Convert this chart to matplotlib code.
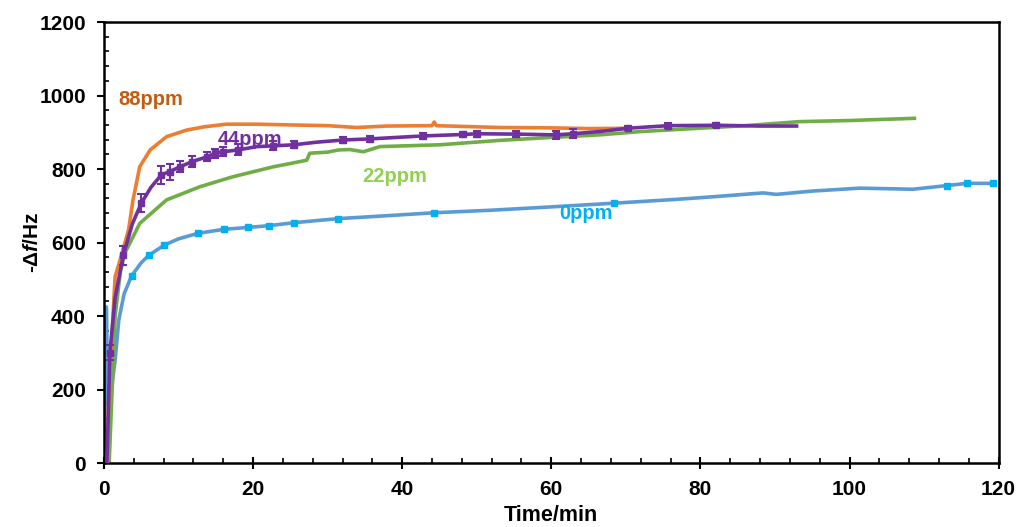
import numpy as np
import matplotlib
matplotlib.use("Agg")
import matplotlib.pyplot as plt

plt.rcParams['font.family'] = ['Liberation Sans', 'DejaVu Sans']
plt.rcParams['font.weight'] = 'bold'
plt.rcParams['mathtext.fontset'] = 'custom'
plt.rcParams['mathtext.rm'] = 'Liberation Sans:bold'
plt.rcParams['mathtext.it'] = 'Liberation Sans:italic:bold'

# 0ppm
t0 = [0, 0.3, 0.35, 0.5, 1.0, 1.5, 2.0, 2.7, 3.7, 5.0, 6.0, 8.1, 10.0, 12.6, 16.1, 19.3,
      22.2, 25.5, 31.4, 38, 44.3, 52, 60, 68.4, 77.2, 82, 88.4, 90.2, 95, 101.4, 108.5,
      113.1, 115.7, 119.5]
f0 = [0, 425, 420, 160, 200, 280, 390, 460, 509, 545, 565, 593, 610, 625, 636, 641,
      646, 654, 665, 673, 681, 688, 697, 707, 718, 725, 735, 731, 740, 748, 745,
      755, 761, 761]
t0_mk = [3.7, 6.0, 8.1, 12.6, 16.1, 19.3, 22.2, 25.5, 31.4, 44.3, 68.4, 113.1, 115.7, 119.2]
f0_mk = [509, 565, 593, 625, 636, 641, 646, 654, 665, 681, 707, 755, 761, 761]

# 22ppm
t22 = [0.7, 1.5, 2.2, 2.8, 4.8, 8.4, 12.9, 17.3, 20.9, 22.7, 25, 27.2, 27.6, 30, 31.5, 33.0,
       34.8, 37.0, 45.1, 53.1, 60, 66.5, 72, 79.9, 86, 93.3, 100, 108.7]
f22 = [0, 400, 520, 571, 652, 716, 752, 779, 797, 806, 815, 824, 843, 846, 852, 853,
       847, 861, 866, 878, 886, 893, 902, 911, 918, 929, 932, 938]

# 88ppm
t88 = [0.5, 0.6, 0.8, 1.5, 2.1, 3.3, 3.9, 4.8, 6.2, 8.4, 11.1, 13.5, 16.4, 20.5, 25, 30,
       33.9, 38, 44.0, 44.3, 44.6, 53.1, 60, 65, 70.1]
f88 = [0, 150, 250, 507, 548, 634, 716, 806, 852, 888, 906, 915, 922, 922, 920, 918,
       913, 917, 918, 928, 918, 913, 912, 910, 911]

# 44ppm
t44 = [0.4, 0.8, 1.5, 2.6, 3.8, 5.0, 6.3, 7.7, 8.8, 10.2, 11.8, 13.8, 14.9, 16.0, 18.0,
       20.5, 22.7, 25.5, 28.5, 32.1, 35.7, 42.8, 48.2, 50.0, 55.3, 60.7, 62.9, 66.5, 70.3,
       75.7, 82.1, 88, 92.9]
f44 = [0, 300, 450, 565, 650, 707, 750, 784, 793, 806, 820, 833, 843, 847, 852,
       861, 863, 866, 873, 879, 882, 890, 894, 896, 895, 893, 896, 902, 911,
       918, 919, 917, 917]
t44_mk = [0.8, 2.6, 5.0, 7.7, 8.8, 10.2, 11.8, 13.8, 14.9, 16.0, 18.0, 22.7, 25.5, 32.1,
          35.7, 42.8, 48.2, 50.0, 55.3, 60.7, 62.9, 70.3, 75.7, 82.1]
f44_mk = [300, 565, 707, 784, 793, 806, 820, 833, 843, 847, 852, 863, 866, 879,
          882, 890, 894, 896, 895, 893, 896, 911, 918, 919]
e44_mk = [20, 26, 25, 25, 22, 15, 15, 12, 12, 12, 15, 12, 10, 8, 8, 8, 8, 8, 8, 10, 12, 6, 6, 6]

fig = plt.figure(figsize=(10.19, 5.27), dpi=100)
ax = fig.add_axes([0.102, 0.1214, 0.878, 0.8368])

ax.plot(t0, f0, color='#5B9BD5', lw=2.6, zorder=2)
ax.plot(t0_mk, f0_mk, ls='none', marker='s', ms=4, color='#00B0F0', zorder=3)
ax.plot(t22, f22, color='#70AD47', lw=2.6, zorder=2)
ax.plot(t88, f88, color='#ED7D31', lw=2.6, zorder=3)
ax.plot(t44, f44, color='#7030A0', lw=2.6, zorder=4)
ax.errorbar(t44_mk, f44_mk, yerr=e44_mk, ls='none', marker='s', ms=5, color='#7030A0',
            elinewidth=1.5, capsize=3, capthick=1.5, zorder=5)

ax.text(1.9, 988, '88ppm', color='#C55A11', fontsize=14.5, fontweight='bold', va='center')
ax.text(15.3, 879, '44ppm', color='#7030A0', fontsize=14.5, fontweight='bold', va='center')
ax.text(34.6, 781, '22ppm', color='#92D050', fontsize=14.5, fontweight='bold', va='center')
ax.text(61.1, 680, '0ppm', color='#00B0F0', fontsize=14.5, fontweight='bold', va='center')

ax.set_xlim(0, 120)
ax.set_ylim(0, 1200)
ax.set_xticks(np.arange(0, 121, 20))
ax.set_yticks(np.arange(0, 1201, 200))
ax.set_xticks(np.arange(0, 121, 4), minor=True)
ax.set_yticks(np.arange(0, 1201, 40), minor=True)
ax.tick_params(axis='x', which='major', direction='inout', length=9, width=1.5, labelsize=15, pad=8)
ax.tick_params(axis='x', which='minor', direction='in', length=3.5, width=1.2)
ax.tick_params(axis='y', which='major', direction='out', length=5, width=1.5, labelsize=15, pad=8)
ax.tick_params(axis='y', which='minor', direction='in', length=3.5, width=1.2)
for s in ax.spines.values():
    s.set_linewidth(1.8)

ax.set_xlabel('Time/min', fontsize=15.5, fontweight='bold', labelpad=4)
ax.set_ylabel('-Δ$\\mathit{f}$/Hz', fontsize=15, fontweight='bold', labelpad=-2)

fig.savefig('out.png', dpi=100)
